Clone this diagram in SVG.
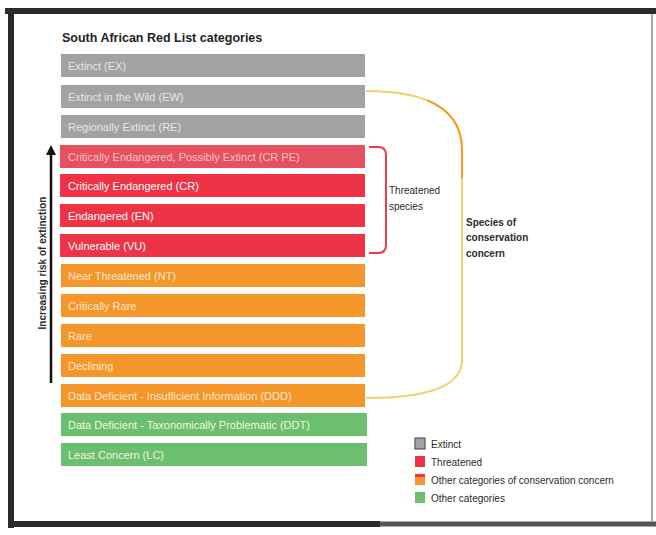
<svg xmlns="http://www.w3.org/2000/svg" width="656" height="535" viewBox="0 0 656 535">
<defs>
<style>
.bar{stroke:none}
.gray{fill:#a2a2a2}
.crpe{fill:#e6505f}
.red{fill:#ee3347}
.orange{fill:#f5962b}
.green{fill:#6bbf6e}
.bt{font-family:"Liberation Sans",Arial,sans-serif;font-size:11px;fill:#ffffff}
.bt.g{fill:#e6e6e6}
.bt.p{fill:#f6c3c8}
.bt.o{fill:#fde7cc}
.bt.gr{fill:#f4f6dc}
.title{font-family:"Liberation Sans",Arial,sans-serif;font-size:12.5px;font-weight:bold;fill:#222}
.lab{font-family:"Liberation Sans",Arial,sans-serif;font-size:10px;fill:#2b2b2b}
.labb{font-family:"Liberation Sans",Arial,sans-serif;font-size:10px;font-weight:bold;fill:#2b2b2b}
.leg{font-family:"Liberation Sans",Arial,sans-serif;font-size:10px;fill:#2b2b2b}
.frame{stroke:#2a2a2a;stroke-width:6;fill:none}
</style>
<marker id="ah" viewBox="0 0 10 10" refX="5" refY="5" markerWidth="4" markerHeight="4" orient="auto-start-reverse">
<path d="M0,0 L10,5 L0,10 z" fill="#111"/>
</marker>
</defs>
<rect x="0" y="0" width="656" height="535" fill="#ffffff"/>
<!-- scanned frame -->
<line class="frame" x1="5" y1="11" x2="656" y2="11"/>
<line class="frame" x1="11" y1="8" x2="11" y2="528"/>
<line class="frame" x1="8" y1="524" x2="380" y2="524"/>
<line x1="380" y1="524" x2="656" y2="524" stroke="#555" stroke-width="5"/>
<line x1="652" y1="14" x2="652" y2="521" stroke="#8a8a8a" stroke-width="1.5"/>

<text class="title" x="62" y="42">South African Red List categories</text>

<g id="ex"><rect class="bar gray" x="61" y="54" width="304" height="23"/><text class="bt g" x="68" y="70">Extinct (EX)</text></g>
<g id="ew"><rect class="bar gray" x="61" y="85" width="304" height="23"/><text class="bt g" x="68" y="101">Extinct in the Wild (EW)</text></g>
<g id="re"><rect class="bar gray" x="61" y="115" width="304" height="23"/><text class="bt g" x="68" y="131">Regionally Extinct (RE)</text></g>
<g id="crpe"><rect class="bar crpe" x="60" y="145" width="305" height="23"/><text class="bt p" x="68" y="161">Critically Endangered, Possibly Extinct (CR PE)</text></g>
<g id="cr"><rect class="bar red" x="60" y="174" width="305" height="23"/><text class="bt" x="68" y="190">Critically Endangered (CR)</text></g>
<g id="en"><rect class="bar red" x="60" y="204" width="305" height="23"/><text class="bt" x="68" y="220">Endangered (EN)</text></g>
<g id="vu"><rect class="bar red" x="60" y="234" width="305" height="23"/><text class="bt" x="68" y="250">Vulnerable (VU)</text></g>
<g id="nt"><rect class="bar orange" x="61" y="264" width="304" height="23"/><text class="bt o" x="68" y="280">Near Threatened (NT)</text></g>
<g id="crr"><rect class="bar orange" x="61" y="294" width="304" height="23"/><text class="bt o" x="68" y="310">Critically Rare</text></g>
<g id="rare"><rect class="bar orange" x="61" y="324" width="304" height="23"/><text class="bt o" x="68" y="340">Rare</text></g>
<g id="dec"><rect class="bar orange" x="61" y="354" width="304" height="23"/><text class="bt o" x="68" y="370">Declining</text></g>
<g id="ddd"><rect class="bar orange" x="61" y="384" width="304" height="23"/><text class="bt o" x="68" y="400">Data Deficient - Insufficient Information (DDD)</text></g>
<g id="ddt"><rect class="bar green" x="61" y="413" width="306" height="23"/><text class="bt gr" x="68" y="429">Data Deficient - Taxonomically Problematic (DDT)</text></g>
<g id="lc"><rect class="bar green" x="61" y="443" width="306" height="23"/><text class="bt gr" x="68" y="459">Least Concern (LC)</text></g>

<g id="connectors" fill="none">
<path d="M369 147 L378 147 Q386 147 386 155 L386 245 Q386 253 378 253 L369 253" stroke="#e63f50" stroke-width="2"/>
<path d="M366 91 Q462 91 462 150 L462 360 Q462 398 366 398" stroke="#f1d06a" stroke-width="2"/>
<path d="M427.4 100.4 Q462 114.6 462 150 L462 178" stroke="#f59a1f" stroke-width="2"/>
<line x1="51" y1="383" x2="51" y2="150" stroke="#111" stroke-width="2.5" marker-end="url(#ah)"/>
</g>

<g id="risk"><text class="labb" transform="translate(46,263) rotate(-90)" text-anchor="middle">Increasing risk of extinction</text></g>
<g id="threatened"><text class="lab" x="389" y="194">Threatened</text><text class="lab" x="389" y="210">species</text></g>
<g id="soc"><text class="labb" x="466" y="226">Species of</text><text class="labb" x="466" y="241">conservation</text><text class="labb" x="466" y="257">concern</text></g>

<g id="legend">
<rect x="415" y="438" width="10" height="11" fill="#a2a2a2" stroke="#555" stroke-width="1.2"/>
<text class="leg" x="431" y="448">Extinct</text>
<rect x="415" y="456" width="10" height="11" fill="#ee3347"/>
<text class="leg" x="431" y="466">Threatened</text>
<rect x="415" y="474" width="10" height="11" fill="#f5962b"/>
<rect x="415" y="474" width="10" height="3" fill="#ee3347"/>
<text class="leg" x="431" y="484">Other categories of conservation concern</text>
<rect x="415" y="492" width="10" height="11" fill="#6bbf6e"/>
<text class="leg" x="431" y="502">Other categories</text>
</g>
</svg>
